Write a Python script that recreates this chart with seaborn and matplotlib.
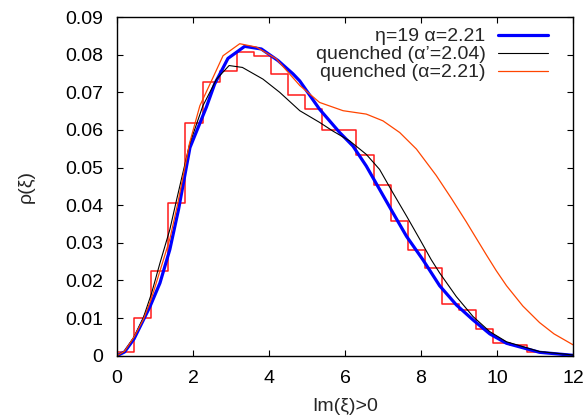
import numpy as np
import pandas as pd
import matplotlib
matplotlib.use("Agg")
import matplotlib.pyplot as plt
import seaborn as sns

# ---------------- data ----------------
bin_width = 0.45
hist_heights = [0.0009, 0.0100, 0.0226, 0.0406, 0.0619, 0.0727, 0.0757, 0.0807,
                0.0797, 0.0748, 0.0693, 0.0656, 0.0600, 0.0599, 0.0534, 0.0453,
                0.0357, 0.0281, 0.0232, 0.0138, 0.0121, 0.0072, 0.0035, 0.0028,
                0.0010]

eta_x = [0, 0.2, 0.45, 0.65, 0.87, 1.13, 1.39, 1.62, 1.92, 2.35, 2.57, 2.92,
         3.36, 3.8, 4.24, 4.63, 4.81, 5.33, 5.86, 6.21, 6.56, 6.91, 7.26, 7.62,
         8.05, 8.49, 8.93, 9.37, 9.81, 10.25, 11.12, 12]
eta_y = [0, 0.001, 0.0045, 0.0086, 0.0131, 0.0193, 0.0282, 0.0389, 0.0553,
         0.066, 0.0722, 0.079, 0.0822, 0.0815, 0.0784, 0.0749, 0.073, 0.0655,
         0.0593, 0.0557, 0.0504, 0.0442, 0.038, 0.0317, 0.0255, 0.0186, 0.0135,
         0.0095, 0.0058, 0.0033, 0.0009, 0.0001]

qa_x = [0, 0.2, 0.45, 0.69, 0.91, 1.13, 1.39, 1.57, 1.91, 2.26, 2.62, 2.95,
        3.3, 3.84, 4.28, 4.81, 5.33, 5.68, 6.12, 6.56, 6.91, 7.26, 7.62, 7.97,
        8.27, 8.49, 8.93, 9.37, 9.81, 10.25, 11.12, 12]
qa_y = [0, 0.0012, 0.005, 0.01, 0.0166, 0.0246, 0.0335, 0.0415, 0.0562,
        0.0664, 0.0735, 0.0771, 0.0766, 0.0735, 0.07, 0.0651, 0.062, 0.0597,
        0.0571, 0.0535, 0.0495, 0.0433, 0.0371, 0.0309, 0.0255, 0.022, 0.0157,
        0.0104, 0.0064, 0.0037, 0.0011, 0.0002]

qb_x = [0, 0.2, 0.45, 0.7, 0.9, 1.13, 1.39, 1.6, 1.91, 2.18, 2.53, 2.79, 3.23,
        3.67, 4.19, 4.81, 5.33, 5.95, 6.56, 7.0, 7.44, 7.88, 8.4, 8.8, 9.19,
        9.37, 9.72, 9.98, 10.25, 10.68, 11.12, 11.5, 12]
qb_y = [0, 0.0012, 0.005, 0.0098, 0.015, 0.0225, 0.031, 0.0405, 0.0565, 0.0664,
        0.074, 0.0797, 0.0829, 0.082, 0.0789, 0.0718, 0.0673, 0.0651, 0.0642,
        0.0624, 0.0593, 0.0549, 0.0479, 0.0418, 0.0356, 0.0326, 0.0268,
        0.0226, 0.0186, 0.0132, 0.0088, 0.0058, 0.0029]

labels = ["η=19 α=2.21", "quenched (α’=2.04)", "quenched (α=2.21)"]
xticks = [0, 2, 4, 6, 8, 10, 12]
yticks = [0, 0.01, 0.02, 0.03, 0.04, 0.05, 0.06, 0.07, 0.08, 0.09]
ytick_labels = ["0", "0.01", "0.02", "0.03", "0.04", "0.05", "0.06", "0.07",
                "0.08", "0.09"]
xlabel = "Im(ξ)>0"
ylabel = "ρ(ξ)"

# ---------------- plot ----------------
sns.set_theme(style="ticks")
plt.rcParams["font.family"] = ["Liberation Sans", "DejaVu Sans"]
plt.rcParams["font.size"] = 14

fig = plt.figure(figsize=(5.88, 4.18), dpi=100)
ax = fig.add_axes([117 / 588, (418 - 355.7) / 418, 456 / 588, 338.7 / 418])

edges = [round(i * bin_width, 4) for i in range(len(hist_heights) + 1)]
centers = [(edges[i] + edges[i + 1]) / 2 for i in range(len(hist_heights))]
hist_df = pd.DataFrame({"center": centers, "height": hist_heights})
sns.histplot(data=hist_df, x="center", weights="height", bins=edges,
             element="step", fill=False, color="#ff1a1a", linewidth=1.1,
             ax=ax, legend=False)

sns.lineplot(x=eta_x, y=eta_y, color="#0000ff", linewidth=2.3, ax=ax,
             sort=False, estimator=None, label=labels[0])
sns.lineplot(x=qa_x, y=qa_y, color="black", linewidth=0.8, ax=ax,
             sort=False, estimator=None, label=labels[1])
sns.lineplot(x=qb_x, y=qb_y, color="#ff4500", linewidth=0.9, ax=ax,
             sort=False, estimator=None, label=labels[2])

ax.set_xlim(0, 12)
ax.set_ylim(0, 0.09)
ax.set_xticks(xticks)
ax.set_xticklabels([str(t) for t in xticks])
ax.set_yticks(yticks)
ax.set_yticklabels(ytick_labels)
ax.tick_params(direction="in", length=4, width=0.8, top=True, right=True,
               labelsize=14, colors="black", pad=10)
for s in ax.spines.values():
    s.set_visible(True)
    s.set_color("black")
    s.set_linewidth(1.0)
ax.set_xlabel(xlabel, fontsize=14, labelpad=8)
ax.set_ylabel(ylabel, fontsize=14, labelpad=22)
ax.grid(False)

leg = ax.legend(loc="upper right", bbox_to_anchor=(0.945, 0.968),
                frameon=False, markerfirst=False, borderpad=0,
                borderaxespad=0, handlelength=2.55, handletextpad=0.65,
                labelspacing=0.02, fontsize=14)
for t in leg.get_texts():
    t.set_ha("right")

fig.savefig("out.png", dpi=100)
